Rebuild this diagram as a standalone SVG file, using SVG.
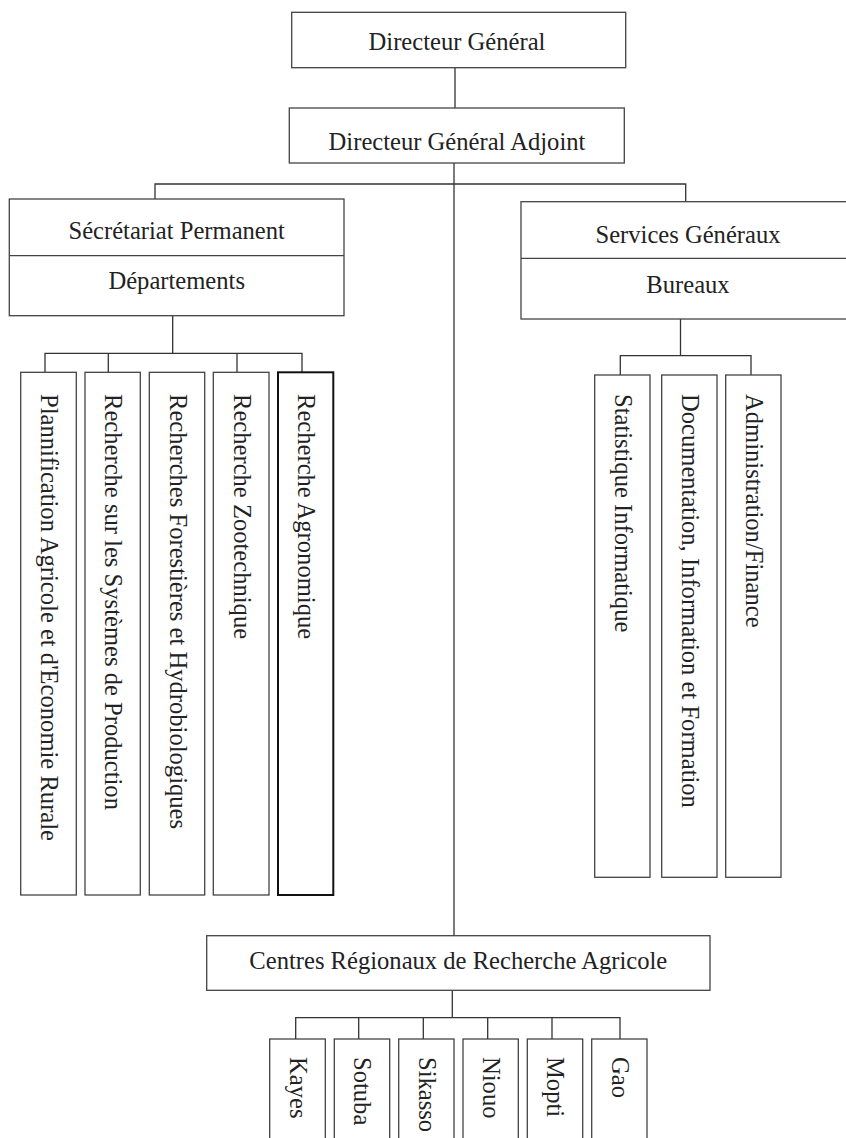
<svg xmlns="http://www.w3.org/2000/svg" width="846" height="1138" viewBox="0 0 846 1138">
<style>
.b{fill:#fff;stroke:#444;stroke-width:1.3}
.bk{fill:#fff;stroke:#111;stroke-width:2}
.c{fill:none;stroke:#333;stroke-width:1.3}
text{font-family:"Liberation Serif","Times New Roman",serif;font-size:24.6px;fill:#222}
.m{text-anchor:middle}
</style>
<rect width="846" height="1138" fill="#fff"/>
<g id="connectors">
<path class="c" d="M455 67.7V108"/>
<path class="c" d="M454 163V936"/>
<path class="c" d="M155 199V184H685.7V201.7"/>
<path class="c" d="M172.7 315.7V353.3M45 372.3V353.3H302V372.3M108.3 353.3V372.3M237 353.3V372.3"/>
<path class="c" d="M680.5 319V355.7M620.3 375V355.7H751V375"/>
<path class="c" d="M452.3 990.3V1017.7M295.7 1039V1017.7H620V1039M358.7 1017.7V1039M423.3 1017.7V1039M487.7 1017.7V1039M552 1017.7V1039"/>
</g>
<g id="dg"><rect class="b" x="291.7" y="12.3" width="334" height="55.4"/><text class="m" x="457" y="49.5">Directeur Général</text></g>
<g id="dga"><rect class="b" x="289.3" y="108" width="335" height="55"/><text class="m" x="457" y="150">Directeur Général Adjoint</text></g>
<g id="sp"><rect class="b" x="9.3" y="199" width="334.7" height="116.7"/><line class="b" x1="9.3" y1="255.7" x2="344" y2="255.7"/><text class="m" x="176.7" y="239">Sécrétariat Permanent</text><text class="m" x="176.7" y="289">Départements</text></g>
<g id="sg"><rect class="b" x="521" y="201.7" width="340" height="117.3"/><line class="b" x1="521" y1="258.3" x2="846" y2="258.3"/><text class="m" x="688" y="242.7">Services Généraux</text><text class="m" x="688" y="293">Bureaux</text></g>
<g id="d1"><rect class="b" x="20.7" y="372.3" width="55.6" height="522.7"/><text transform="translate(41 394) rotate(90)">Plannification Agricole et d'Economie Rurale</text></g>
<g id="d2"><rect class="b" x="85" y="372.3" width="55.3" height="522.7"/><text transform="translate(105 394) rotate(90)">Recherche sur les Systèmes de Production</text></g>
<g id="d3"><rect class="b" x="149.3" y="372.3" width="55.4" height="522.7"/><text transform="translate(169.5 394) rotate(90)">Recherches Forestières et Hydrobiologiques</text></g>
<g id="d4"><rect class="b" x="213.3" y="372.3" width="55.7" height="522.7"/><text transform="translate(233.5 394) rotate(90)">Recherche Zootechnique</text></g>
<g id="d5"><rect class="bk" x="278" y="372.3" width="55.3" height="522.7"/><text transform="translate(298 394) rotate(90)">Recherche Agronomique</text></g>
<g id="b1"><rect class="b" x="594.7" y="375" width="55.3" height="502.3"/><text transform="translate(614.5 394) rotate(90)">Statistique Informatique</text></g>
<g id="b2"><rect class="b" x="661.7" y="375" width="55.3" height="502.3"/><text transform="translate(681.5 394) rotate(90)">Documentation, Information et Formation</text></g>
<g id="b3"><rect class="b" x="725.7" y="375" width="55.3" height="502.3"/><text transform="translate(745.5 394) rotate(90)">Administration/Finance</text></g>
<g id="crra"><rect class="b" x="206.7" y="935.7" width="503.3" height="54.6"/><text class="m" x="458.3" y="969">Centres Régionaux de Recherche Agricole</text></g>
<g id="r1"><rect class="b" x="269.7" y="1039" width="55.6" height="110"/><text transform="translate(289.5 1057) rotate(90)">Kayes</text></g>
<g id="r2"><rect class="b" x="334.3" y="1039" width="55.4" height="110"/><text transform="translate(354 1057) rotate(90)">Sotuba</text></g>
<g id="r3"><rect class="b" x="398.7" y="1039" width="55.3" height="110"/><text transform="translate(418.5 1057) rotate(90)">Sikasso</text></g>
<g id="r4"><rect class="b" x="463" y="1039" width="55.3" height="110"/><text transform="translate(483 1057) rotate(90)">Niouo</text></g>
<g id="r5"><rect class="b" x="527.3" y="1039" width="55.4" height="110"/><text transform="translate(547 1057) rotate(90)">Mopti</text></g>
<g id="r6"><rect class="b" x="591.7" y="1039" width="55.3" height="110"/><text transform="translate(611.5 1057) rotate(90)">Gao</text></g>
</svg>
